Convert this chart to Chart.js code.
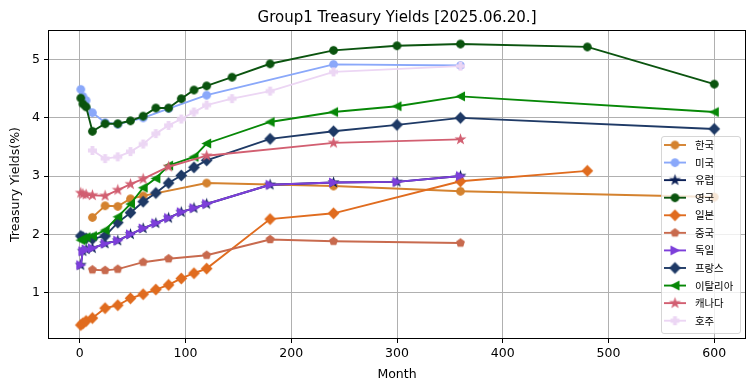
<!DOCTYPE html>
<html><head><meta charset="utf-8">
<script src="https://cdn.jsdelivr.net/npm/chart.js@4.4.1/dist/chart.umd.min.js"></script>
<style>html,body{margin:0;padding:0;background:#fff;}#wrap{width:755px;height:391px;position:relative;}</style>
</head><body><div id="wrap"><canvas id="c" width="755" height="391"></canvas></div>
<script>
const chartTitle = "Group1 Treasury Yields [2025.06.20.]";
const xTitle = "Month";
const yTitle = "Treasury Yields(%)";
const xTicks = [0, 100, 200, 300, 400, 500, 600];
const yTicks = [1, 2, 3, 4, 5];

const krMonths = [12, 24, 36, 48, 60, 120, 240, 360, 600];
const krYields = [2.29, 2.49, 2.48, 2.61, 2.66, 2.88, 2.83, 2.74, 2.64];

const usMonths = [1, 3, 6, 12, 24, 36, 60, 84, 120, 240, 360];
const usYields = [4.49, 4.37, 4.30, 4.09, 3.92, 3.89, 4.00, 4.16, 4.39, 4.92, 4.90];

const euMonths = [1, 3, 6, 12, 24, 36, 48, 60, 72, 84, 96, 108, 120, 180, 240, 300, 360];
const euYields = [1.47, 1.71, 1.74, 1.76, 1.84, 1.89, 2.00, 2.10, 2.19, 2.28, 2.38, 2.45, 2.52, 2.85, 2.89, 2.90, 3.00];

const ukMonths = [1, 3, 6, 12, 24, 36, 48, 60, 72, 84, 96, 108, 120, 144, 180, 240, 300, 360, 480, 600];
const ukYields = [4.34, 4.24, 4.19, 3.77, 3.90, 3.90, 3.95, 4.03, 4.17, 4.17, 4.33, 4.48, 4.55, 4.70, 4.93, 5.16, 5.24, 5.27, 5.22, 4.58];

const jpMonths = [1, 3, 6, 12, 24, 36, 48, 60, 72, 84, 96, 108, 120, 180, 240, 360, 480];
const jpYields = [0.44, 0.47, 0.51, 0.56, 0.73, 0.78, 0.90, 0.97, 1.05, 1.13, 1.24, 1.33, 1.41, 2.26, 2.36, 2.91, 3.09];

const cnMonths = [12, 24, 36, 60, 84, 120, 180, 240, 360];
const cnYields = [1.39, 1.38, 1.40, 1.52, 1.58, 1.64, 1.91, 1.88, 1.85];

const deMonths = [1, 3, 6, 12, 24, 36, 48, 60, 72, 84, 96, 108, 120, 180, 240, 300, 360];
const deYields = [1.47, 1.71, 1.74, 1.76, 1.84, 1.89, 2.00, 2.10, 2.19, 2.28, 2.38, 2.45, 2.52, 2.85, 2.89, 2.90, 3.00];

const frMonths = [1, 3, 6, 12, 24, 36, 48, 60, 72, 84, 96, 108, 120, 180, 240, 300, 360, 600];
const frYields = [1.97, 1.95, 1.93, 1.92, 1.97, 2.20, 2.37, 2.56, 2.71, 2.88, 3.01, 3.15, 3.27, 3.64, 3.77, 3.88, 4.00, 3.81];

const itMonths = [1, 3, 6, 12, 24, 36, 48, 60, 72, 84, 108, 120, 180, 240, 300, 360, 600];
const itYields = [1.90, 1.92, 1.95, 1.97, 2.07, 2.30, 2.52, 2.80, 2.96, 3.18, 3.33, 3.56, 3.93, 4.10, 4.20, 4.37, 4.10];

const caMonths = [1, 3, 6, 12, 24, 36, 48, 60, 84, 120, 240, 360];
const caYields = [2.71, 2.69, 2.68, 2.67, 2.66, 2.76, 2.86, 2.95, 3.16, 3.35, 3.57, 3.63];

const auMonths = [12, 24, 36, 48, 60, 72, 84, 96, 108, 120, 144, 180, 240, 360];
const auYields = [3.44, 3.30, 3.33, 3.42, 3.55, 3.73, 3.87, 3.98, 4.10, 4.22, 4.33, 4.46, 4.79, 4.89];

const seriesNames = ["한국", "미국", "유럽", "영국", "일본", "중국", "독일", "프랑스", "이탈리아", "캐나다", "호주"];
const seriesMonths = [krMonths, usMonths, euMonths, ukMonths, jpMonths, cnMonths, deMonths, frMonths, itMonths, caMonths, auMonths];
const seriesYields = [krYields, usYields, euYields, ukYields, jpYields, cnYields, deYields, frYields, itYields, caYields, auYields];
const seriesColors = ["#d4822f", "#8aa8fa", "#0b1f55", "#0b540f", "#e06c1f", "#c86a4e", "#7d3fda", "#1f3a66", "#078807", "#d25f71", "#ecd6f4"];
const seriesMarkers = ["circle", "circle", "star", "circle", "diamond", "pentagon", "triR", "diamond", "triL", "star", "plus"];

function markerCanvas(shape, color) {
  const S = 15;
  const cv = document.createElement('canvas');
  cv.width = S; cv.height = S;
  const g = cv.getContext('2d');
  g.translate(S / 2, S / 2);
  g.beginPath();
  const pts = [];
  if (shape === 'circle') {
    g.arc(0, 0, 3.75, 0, Math.PI * 2);
  } else if (shape === 'diamond') {
    const r = 5.0;
    pts.push([0, -r], [r, 0], [0, r], [-r, 0]);
  } else if (shape === 'star') {
    const R = 4.3, r = R * 0.382;
    for (let i = 0; i < 10; i++) {
      const a = -Math.PI / 2 + i * Math.PI / 5;
      const rr = i % 2 === 0 ? R : r;
      pts.push([rr * Math.cos(a), rr * Math.sin(a)]);
    }
  } else if (shape === 'pentagon') {
    const R = 3.9;
    for (let i = 0; i < 5; i++) {
      const a = -Math.PI / 2 + i * 2 * Math.PI / 5;
      pts.push([R * Math.cos(a), R * Math.sin(a)]);
    }
  } else if (shape === 'triR') {
    const h = 3.9;
    pts.push([h, 0], [-h, -h], [-h, h]);
  } else if (shape === 'triL') {
    const h = 3.9;
    pts.push([-h, 0], [h, -h], [h, h]);
  } else if (shape === 'plus') {
    const a = 1.3, b = 3.9;
    pts.push([-a, -b], [a, -b], [a, -a], [b, -a], [b, a], [a, a], [a, b], [-a, b], [-a, a], [-b, a], [-b, -a], [-a, -a]);
  }
  if (pts.length) {
    g.moveTo(pts[0][0], pts[0][1]);
    for (let i = 1; i < pts.length; i++) g.lineTo(pts[i][0], pts[i][1]);
    g.closePath();
  }
  g.fillStyle = color; g.fill();
  g.lineWidth = 1.25; g.strokeStyle = color; g.lineJoin = 'miter'; g.stroke();
  return cv;
}

const markers = seriesNames.map((n, i) => markerCanvas(seriesMarkers[i], seriesColors[i]));

const datasets = seriesNames.map((name, i) => ({
  label: name,
  data: seriesMonths[i].map((m, j) => ({ x: m, y: seriesYields[i][j] })),
  borderColor: seriesColors[i],
  backgroundColor: seriesColors[i],
  borderWidth: 1.9,
  pointStyle: markers[i],
  pointRadius: 4,
  pointHoverRadius: 4,
  tension: 0,
  fill: false,
  order: seriesNames.length - i
}));

const FONT = "'DejaVu Sans', sans-serif";

const framePlugin = {
  id: 'frame',
  afterDatasetsDraw(chart) {
    const { ctx, chartArea: a } = chart;
    ctx.save();
    ctx.strokeStyle = '#000'; ctx.lineWidth = 1;
    ctx.strokeRect(Math.round(a.left) + 0.5, Math.round(a.top) + 0.5, Math.round(a.right - a.left) - 1, Math.round(a.bottom - a.top) - 1);
    ctx.restore();
  }
};

const legendPlugin = {
  id: 'mplLegend',
  afterDraw(chart) {
    const ctx = chart.ctx;
    const a = chart.chartArea;
    ctx.save();
    const x0 = 661.5, y1 = a.bottom - 5.5, x1 = a.right - 5.5, y0 = 136.5;
    const r = 2.5;
    ctx.beginPath();
    ctx.moveTo(x0 + r, y0); ctx.lineTo(x1 - r, y0); ctx.quadraticCurveTo(x1, y0, x1, y0 + r);
    ctx.lineTo(x1, y1 - r); ctx.quadraticCurveTo(x1, y1, x1 - r, y1);
    ctx.lineTo(x0 + r, y1); ctx.quadraticCurveTo(x0, y1, x0, y1 - r);
    ctx.lineTo(x0, y0 + r); ctx.quadraticCurveTo(x0, y0, x0 + r, y0);
    ctx.closePath();
    ctx.fillStyle = 'rgba(255,255,255,0.8)'; ctx.fill();
    ctx.strokeStyle = 'rgba(204,204,204,0.8)'; ctx.lineWidth = 1; ctx.stroke();
    ctx.font = "10.4px 'Noto Sans CJK KR', sans-serif";
    ctx.textBaseline = 'middle'; ctx.textAlign = 'left';
    seriesNames.forEach((name, i) => {
      const y = 145 + i * 17.57;
      ctx.strokeStyle = seriesColors[i]; ctx.lineWidth = 1.9;
      ctx.beginPath(); ctx.moveTo(664, y); ctx.lineTo(686, y); ctx.stroke();
      const m = markers[i];
      ctx.drawImage(m, 675 - m.width / 2, y - m.height / 2);
      ctx.fillStyle = '#000';
      ctx.fillText(name, 695, y);
    });
    ctx.restore();
  }
};

const titlePlugin = {
  id: 'mplTitle',
  afterDraw(chart) {
    const ctx = chart.ctx; const a = chart.chartArea;
    ctx.save();
    ctx.font = "15px " + FONT; ctx.fillStyle = '#000';
    ctx.textAlign = 'center'; ctx.textBaseline = 'alphabetic';
    ctx.fillText(chartTitle, (a.left + a.right) / 2, 22);
    ctx.restore();
  }
};

new Chart(document.getElementById('c'), {
  type: 'line',
  data: { datasets },
  plugins: [framePlugin, legendPlugin, titlePlugin],
  options: {
    responsive: false,
    animation: false,
    events: [],
    layout: { padding: { left: 0, right: 9, top: 30, bottom: 0 } },
    plugins: { legend: { display: false }, tooltip: { enabled: false }, title: { display: false } },
    scales: {
      x: {
        type: 'linear', min: -30, max: 630,
        afterBuildTicks: sc => { sc.ticks = xTicks.map(v => ({ value: v })); },
        afterFit: sc => { sc.height = 52; },
        grid: { color: '#b0b0b0', lineWidth: 1, tickLength: 4, tickColor: '#000', drawTicks: true },
        border: { display: false },
        ticks: { font: { family: FONT, size: 12.5 }, color: '#000', padding: 3, maxRotation: 0, autoSkip: false },
        title: { display: true, text: xTitle, color: '#000', font: { family: FONT, size: 12.5 }, padding: { top: 0, bottom: 9 } }
      },
      y: {
        type: 'linear', min: 0.2, max: 5.51,
        afterBuildTicks: sc => { sc.ticks = yTicks.map(v => ({ value: v })); },
        afterFit: sc => { sc.width = 48; },
        grid: { color: '#b0b0b0', lineWidth: 1, tickLength: 4, tickColor: '#000', drawTicks: true },
        border: { display: false },
        ticks: { font: { family: FONT, size: 12.5 }, color: '#000', padding: 4, autoSkip: false, callback: v => String(v) },
        title: { display: true, text: yTitle, color: '#000', font: { family: FONT, size: 12.5 }, padding: { top: 8, bottom: 0 } }
      }
    }
  }
});
</script>
</body></html>
